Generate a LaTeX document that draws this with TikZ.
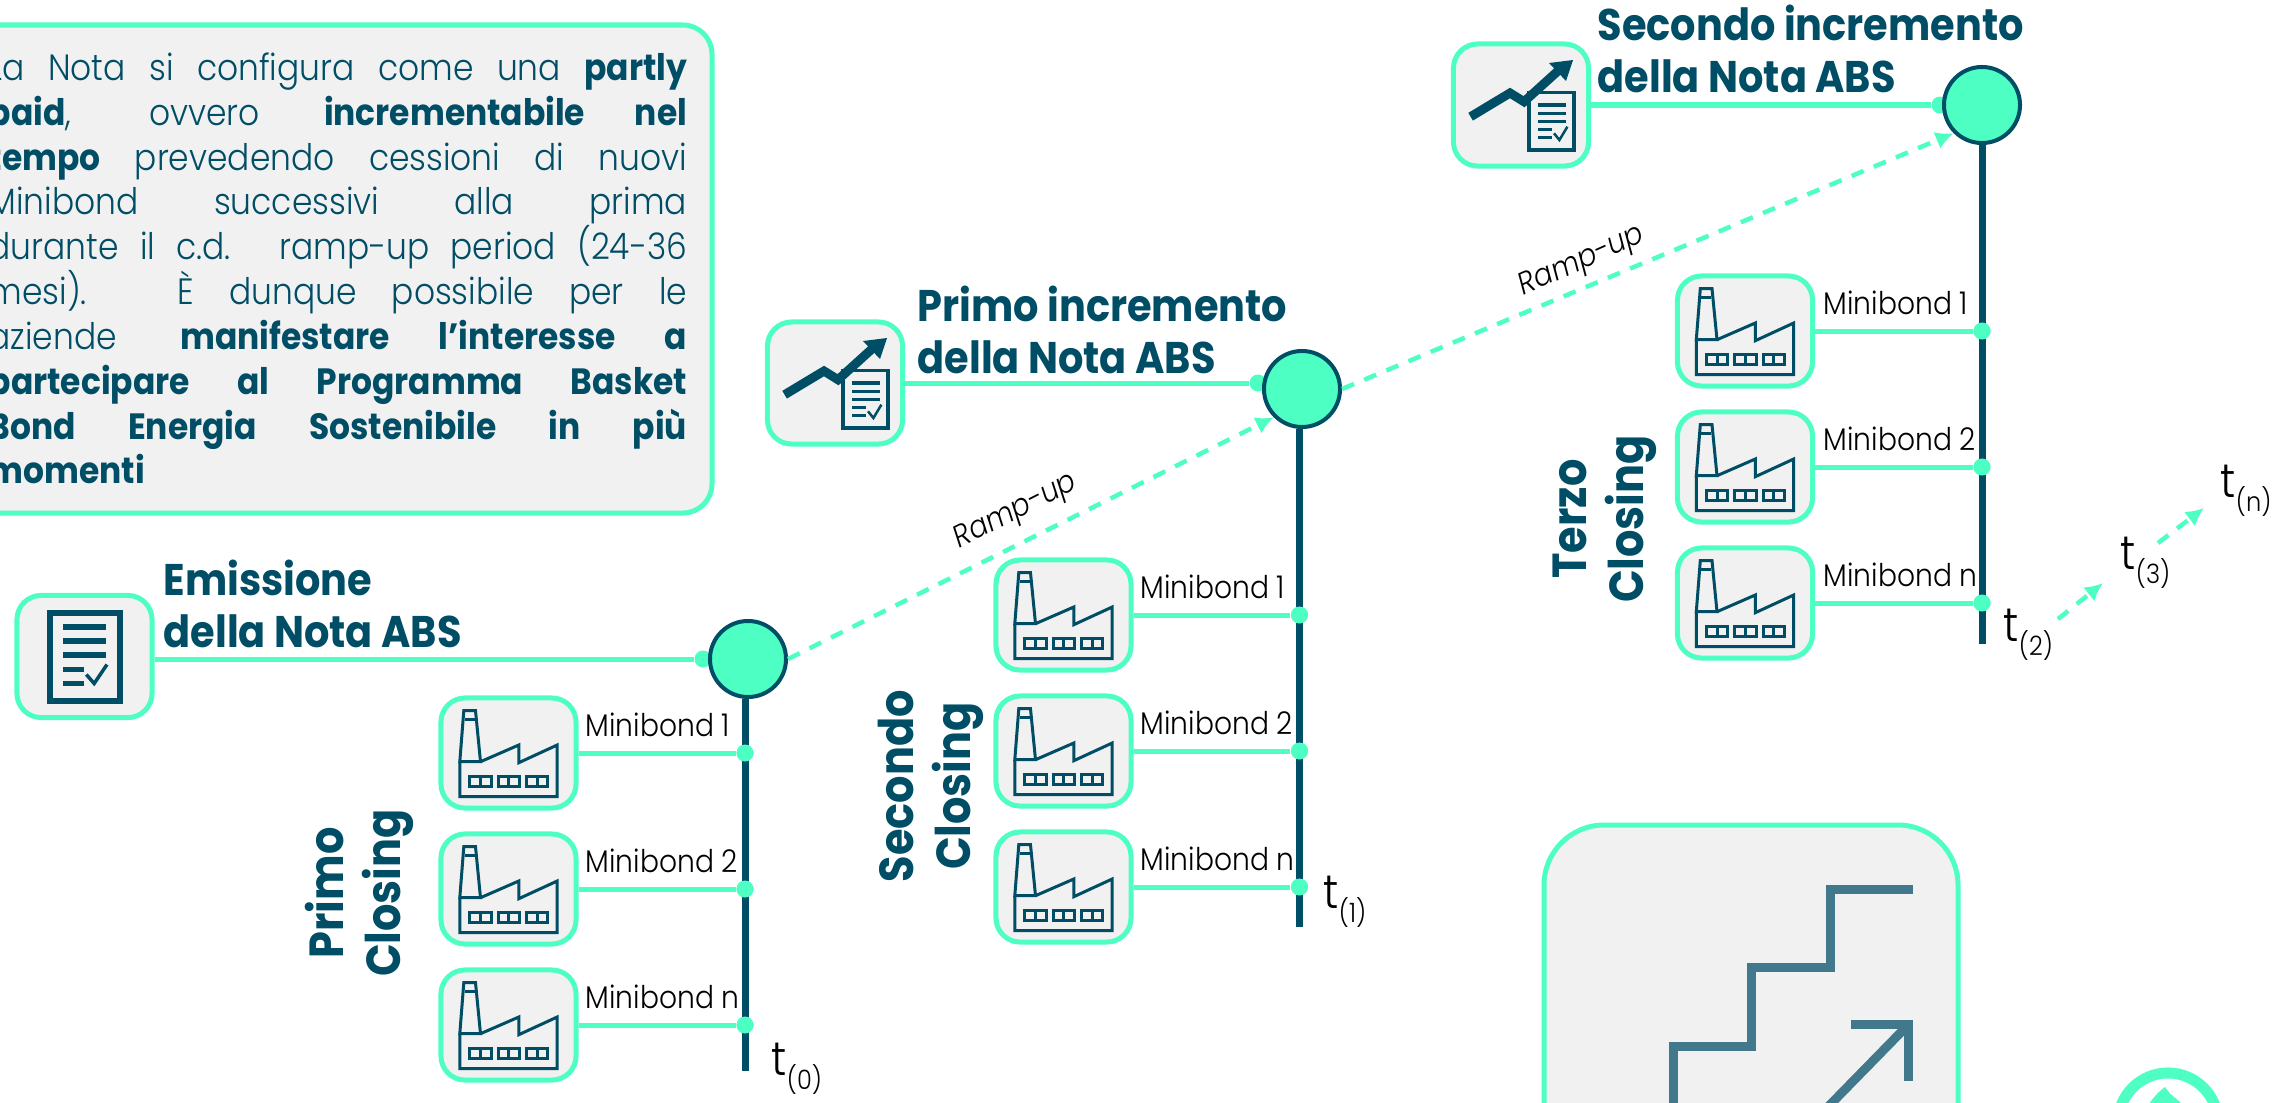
\documentclass[tikz,border=0pt]{standalone}
\usepackage{fontspec}
\setmainfont{Poppins}[UprightFont=* Light,BoldFont=* Bold,ItalicFont=* Light Italic,FakeStretch=.9]
\usetikzlibrary{arrows.meta,calc}
\definecolor{mint}{HTML}{4DFFC3}
\definecolor{deepteal}{HTML}{004D66}
\definecolor{softteal}{HTML}{41788C}
\definecolor{panel}{HTML}{F1F1F1}
\newcommand{\tsub}[1]{t\raisebox{-.3em}{\fontsize{7.6}{10}\selectfont(#1)}}
\tikzset{
  iconbox/.style={draw=mint,fill=panel,line width=.05cm,rounded corners=.24cm,minimum width=1.35cm,inner sep=0pt},
  wire/.style={draw=mint,line width=.05cm},
  spine/.style={draw=deepteal,line width=.07cm},
  spot/.style={circle,fill=mint,minimum size=.17cm,inner sep=0pt},
  hub/.style={circle,draw=deepteal,fill=mint,line width=.04cm,minimum size=.76cm,inner sep=0pt},
  ramp/.style={draw=mint,line width=.045cm,dash pattern=on .13cm off .11cm,-{Latex[length=.18cm,width=.18cm]}},
  headtext/.style={text=deepteal,align=left,inner sep=0pt,font=\bfseries\fontsize{12.6}{14.8}\selectfont},
  closetext/.style={text=deepteal,align=center,inner sep=0pt,rotate=90,font=\bfseries\fontsize{13.6}{16.2}\selectfont},
  bondtext/.style={text=black,inner sep=0pt,anchor=base west,font=\fontsize{8.9}{10}\selectfont},
  ramptext/.style={text=black,inner sep=0pt,font=\itshape\fontsize{8.8}{10}\selectfont},
  timetext/.style={text=black,inner sep=0pt,anchor=base west,font=\fontsize{13.5}{14}\selectfont},
  factory/.pic={
    \draw[deepteal,line width=.03cm](-44.7,-42.3)--(-33,-42.3)--(-28,8.7)--(-48.7,8.7)--cycle;
    \draw[deepteal,line width=.03cm](-43.7,-33.7)--(-33.8,-33.7);
    \draw[deepteal,line width=.03cm](-48.7,8.7)--(-48.7,43.7)--(48.7,43.7)--(48.7,-8)--(10.3,9.7)--(10.3,-8)--(-28,8.7);
    \foreach \x in {-28,.3,28.7}{
      \draw[deepteal,line width=.03cm](\x-10.7,23.7)rectangle(\x+10.7,33.7);
      \draw[deepteal,line width=.03cm](\x,23.7)--(\x,33.7);
    }
  },
  noteicon/.pic={
    \draw[deepteal,line width=.06cm](-34.7,-43.5)rectangle(35.7,44);
    \foreach \y in {-29.5,-15.5,-1.5}{
      \draw[deepteal,line width=.055cm](-21.5,\y)--(21.5,\y);
    }
    \foreach \y in {13,27}{
      \draw[deepteal,line width=.055cm](-21.5,\y)--(-.5,\y);
    }
    \draw[deepteal,line width=.035cm](1.8,18)--(9.7,27)--(22.5,8);
  },
  growicon/.pic={
    \draw[deepteal,line width=.035cm](8,-12.3)rectangle(53,45);
    \foreach \y in {0,8.3,16.7}{
      \draw[deepteal,line width=.035cm](16.8,\y)--(44.5,\y);
    }
    \foreach \y in {24.3,32.7}{
      \draw[deepteal,line width=.035cm](16.8,\y)--(31,\y);
    }
    \draw[deepteal,line width=.025cm](33,28.3)--(38.4,35)--(46.4,21.7);
    \draw[deepteal,line width=.09cm](-50.4,11.7)--(-11,-12)--(3,-3.3)--(38,-35);
    \fill[deepteal](52,-45)--(28,-42)--(45,-24)--cycle;
  }
}
\begin{document}
\begin{tikzpicture}[x=.01cm,y=-.01cm]
  \useasboundingbox(0,0)rectangle(2278,1103);
  \clip(0,0)rectangle(2278,1103);
  % note box
  \draw[wire,fill=panel,rounded corners=.29cm](-60,25)rectangle(712,513);
  \node[text=deepteal,text width=6.98cm,align=justify,inner sep=0pt,anchor=north west,
    font=\fontsize{10.4}{12.75}\selectfont] (note) at (-12,52)
    {La Nota si configura come una \textbf{partly}\linebreak
    \textbf{paid}, ovvero \textbf{incrementabile nel}\linebreak
    \textbf{tempo} prevedendo cessioni di nuovi\linebreak
    Minibond successivi alla prima\linebreak
    durante il c.d. ramp-up period (24-36\linebreak
    mesi). È dunque possibile per le\linebreak
    aziende \textbf{manifestare l’interesse a}\linebreak
    \textbf{partecipare al Programma Basket}\linebreak
    \textbf{Bond Energia Sostenibile in più}\linebreak
    \textbf{momenti}};
  % closings
  \foreach \n/\xbox/\xaxis/\ya/\xlab/\yend in {0/508.5/745/753/585/1071,1/1063.5/1299.5/615/1140/927,2/1745/1982/331/1823/644}{
    \coordinate (end\n) at (\xaxis,\yend);
    \foreach \i/\dy in {1/0,2/136,3/272}{
      \node[iconbox,minimum height=1.1cm] (fab\n\i) at (\xbox,\ya+\dy) {};
      \pic at (fab\n\i) {factory};
      \node[spot] (dot\n\i) at (\xaxis,\ya+\dy) {};
      \draw[wire] (fab\n\i.east)--(dot\n\i);
    }
    \node[bondtext] (lab\n1) at (\xlab,\ya-17) {Minibond 1};
    \node[bondtext] (lab\n2) at (\xlab,\ya+119) {Minibond 2};
    \node[bondtext] (lab\n3) at (\xlab,\ya+255) {Minibond n};
  }
  % issue points
  \node[iconbox,minimum height=1.22cm] (doc0) at (84.5,656.5) {};
  \pic at (doc0) {noteicon};
  \node[iconbox,minimum height=1.22cm] (doc1) at (835,383) {};
  \pic at (doc1) {growicon};
  \node[iconbox,minimum height=1.22cm] (doc2) at (1521,105) {};
  \pic at (doc2) {growicon};
  \node[spot] (tap0) at (703,659) {};
  \node[spot] (tap1) at (1258,383) {};
  \node[spot] (tap2) at (1940,105) {};
  \foreach \n in {0,1,2}{
    \draw[wire] (doc\n.east|-tap\n)--(tap\n);
  }
  \node[hub] (hub0) at (748,659) {};
  \node[hub] (hub1) at (1302,389) {};
  \node[hub] (hub2) at (1982,105) {};
  \foreach \n in {0,1,2}{
    \draw[spine] (end\n|-hub\n.south)--(end\n);
  }
  \foreach \n in {0,1,2}{
    \foreach \i in {1,2,3}{
      \node[spot] at (dot\n\i) {};
    }
  }
  \draw[ramp] (hub0.east)--(hub1.south west);
  \draw[ramp] (hub1.east)--(hub2.south west);
  \node[ramptext,rotate=27] (ramp0) at (1016,512) {Ramp-up};
  \node[ramptext,rotate=24] (ramp1) at (1582,262) {Ramp-up};
  % titles
  \node[headtext,anchor=west] (head0) at (163,604) {Emissione\\della Nota ABS};
  \node[headtext,anchor=west] (head1) at (917,330) {Primo incremento\\della Nota ABS};
  \node[headtext,anchor=west] (head2) at (1597,49) {Secondo incremento\\della Nota ABS};
  \node[closetext] (close0) at (359,893) {Primo\\Closing};
  \node[closetext] (close1) at (931,786) {Secondo\\Closing};
  \node[closetext] (close2) at (1605,519) {Terzo\\Closing};
  % times
  \node[timetext] (t0) at (771,1075) {\tsub{0}};
  \node[timetext] (t1) at (1323,908) {\tsub{1}};
  \node[timetext] (t2) at (2003,641) {\tsub{2}};
  \node[timetext] (t3) at (2120,569) {\tsub{3}};
  \node[timetext] (t4) at (2220,497) {\tsub{n}};
  \coordinate (go2) at (2058,619);
  \coordinate (to3) at (2103,583);
  \coordinate (go3) at (2158,543);
  \coordinate (to4) at (2204,508);
  \draw[ramp] (go2)--(to3);
  \draw[ramp] (go3)--(to4);
  % stairs panel
  \draw[wire,fill=panel,rounded corners=.6cm](1544,825)rectangle(1958,1200);
  \draw[softteal,line width=.09cm](1913,889.5)--(1830,889.5)--(1830,967.5)--(1751.5,967.5)--(1751.5,1046.5)--(1673.5,1046.5)--(1673.5,1125);
  \draw[softteal,line width=.09cm](1851,1024.5)--(1908.5,1024.5)--(1908.5,1081);
  \draw[softteal,line width=.09cm](1908.5,1024.5)--(1820,1115);
  % round mark
  \draw[mint,line width=.11cm](2168,1123)circle[radius=.5cm];
  \fill[mint](2165,1087)..controls(2170,1095)and(2176,1098)..(2182,1104)--(2149,1104)..controls(2153,1098)and(2158,1092)..(2165,1087)--cycle;
\end{tikzpicture}
\end{document}
